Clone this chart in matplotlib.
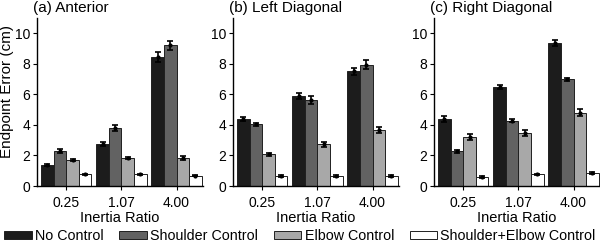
import matplotlib.pyplot as plt
import matplotlib as mpl
import numpy as np

# inertia ratios on the x axis
ratios = ["0.25", "1.07", "4.00"]
conditions = ["No Control", "Shoulder Control", "Elbow Control", "Shoulder+Elbow Control"]
panels = ["(a) Anterior", "(b) Left Diagonal", "(c) Right Diagonal"]

# endpoint error (cm), one row per condition, columns = inertia ratios
anterior = [[1.40, 2.75, 8.45],
            [2.30, 3.80, 9.20],
            [1.68, 1.82, 1.85],
            [0.76, 0.76, 0.68]]
anterior_err = [[0.07, 0.12, 0.30],
                [0.15, 0.20, 0.30],
                [0.06, 0.06, 0.13],
                [0.05, 0.05, 0.04]]

left_diag = [[4.38, 5.90, 7.50],
             [4.03, 5.62, 7.95],
             [2.07, 2.72, 3.68],
             [0.65, 0.66, 0.64]]
left_diag_err = [[0.12, 0.22, 0.25],
                 [0.12, 0.25, 0.30],
                 [0.08, 0.15, 0.18],
                 [0.05, 0.05, 0.05]]

right_diag = [[4.38, 6.48, 9.36],
              [2.26, 4.28, 6.98],
              [3.20, 3.46, 4.80],
              [0.60, 0.77, 0.86]]
right_diag_err = [[0.18, 0.15, 0.18],
                  [0.12, 0.12, 0.10],
                  [0.20, 0.20, 0.22],
                  [0.05, 0.04, 0.05]]

data = [anterior, left_diag, right_diag]
errs = [anterior_err, left_diag_err, right_diag_err]

colors = ["#1c1c1c", "#626262", "#a8a8a8", "#ffffff"]

mpl.rc("font", family=["Liberation Sans", "DejaVu Sans"], size=10)

fig = plt.figure(figsize=(6, 2.42), dpi=100)
lefts = [37 / 600, 233 / 600, 434 / 600]
bottom = 56 / 242
height = 168 / 242
width = 166 / 600

x = np.arange(len(ratios))
w = 0.228
handles = []
for p in range(3):
    ax = fig.add_axes([lefts[p], bottom, width, height])
    for i in range(4):
        pos = x + (i - 1.5) * w
        b = ax.bar(pos, data[p][i], width=w, color=colors[i],
                   edgecolor="#202020", linewidth=0.7, label=conditions[i])
        ax.errorbar(pos, data[p][i], yerr=errs[p][i], fmt="o", ms=2,
                    color="black", capsize=2.5, elinewidth=1.2, capthick=1.2)
        if p == 0:
            handles.append(b)
    ax.set_xlim(-0.53, 2.48)
    ax.set_ylim(0, 11)
    ax.set_yticks([0, 2, 4, 6, 8, 10])
    ax.set_xticks(x)
    ax.set_xticklabels(ratios)
    ax.tick_params(axis="both", direction="out", length=3, width=0.8, labelsize=10)
    ax.tick_params(axis="x", pad=4)
    ax.tick_params(axis="y", pad=2)
    ax.spines["top"].set_visible(False)
    ax.spines["right"].set_visible(False)
    ax.spines["left"].set_linewidth(1.0)
    ax.spines["bottom"].set_linewidth(1.0)
    ax.set_xlabel("Inertia Ratio", fontsize=10.5, labelpad=1)
    if p == 0:
        ax.set_ylabel("Endpoint Error (cm)", fontsize=11)
        ax.yaxis.set_label_coords(-0.14, 0.56)
    fig.text(lefts[p] - 4 / 600, 0.965, panels[p], fontsize=11, ha="left", va="center")

fig.legend(handles, conditions, loc="center", bbox_to_anchor=(0.5, 6 / 242),
           ncol=4, frameon=False, fontsize=10.3, handlelength=1.9, handleheight=0.55,
           handletextpad=0.25, columnspacing=1.1, borderaxespad=0)

fig.savefig("out.png", dpi=100)
